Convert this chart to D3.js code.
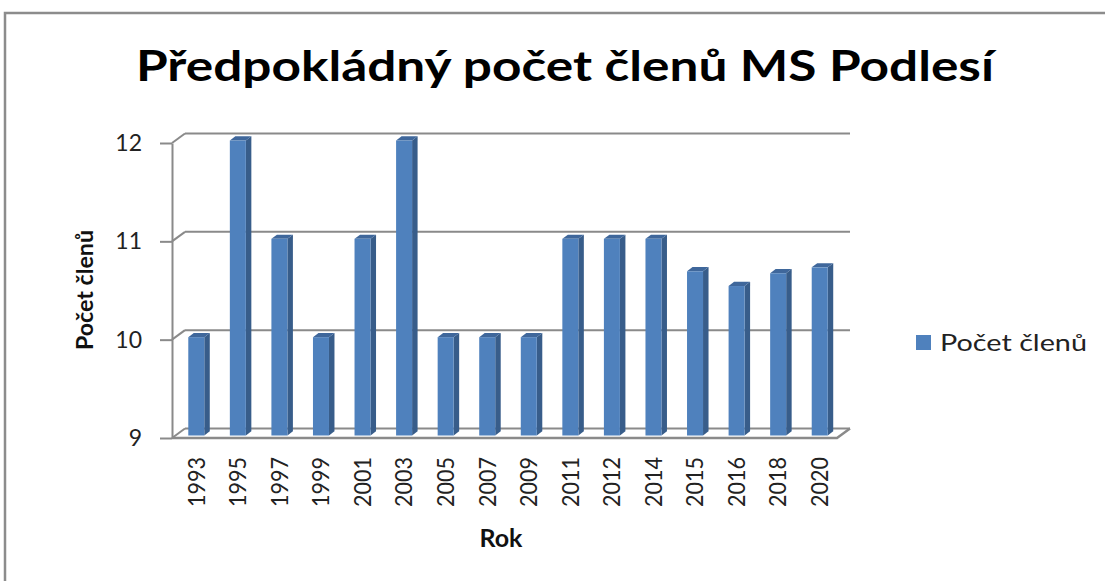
<!DOCTYPE html>
<html><head><meta charset="utf-8">
<script src="https://cdn.jsdelivr.net/npm/d3@7/dist/d3.min.js"></script>
<style>body{margin:0;background:#fff}svg{display:block}</style>
</head><body>
<svg id="c" width="1105" height="581"></svg>
<script>
const years = ["1993","1995","1997","1999","2001","2003","2005","2007","2009","2011","2012","2014","2015","2016","2018","2020"];
const members = [10,12,11,10,11,12,10,10,10,11,11,11,10.67,10.52,10.65,10.71];
const yTicks = [9,10,11,12];
const seriesName = "Počet členů";
const titleText = "Předpokládný počet členů MS Podlesí";
const xTitle = "Rok";
const yTitle = "Počet členů";

const svg = d3.select("#c");
const font = "Lato, 'Open Sans', sans-serif";
const grid = "#8a8a8a";

// chart border
svg.append("path").attr("d","M5,582 L5,13 L1106,13").attr("fill","none").attr("stroke","#8c8c8c").attr("stroke-width",2.5);

const x0 = 172, x1 = 837;
const x = d3.scaleBand().domain(years).range([x0, x1]).paddingInner(0.615).paddingOuter(0.3075);
const y = d3.scaleLinear().domain([9,12]).range([438,143]);
const wallDx = 13, wallDy = -9.5;   // back wall offset
const barDx = 3.5, barDy = -2.5;    // bar placement depth
const depX = 5.5, depY = -4.2;      // bar's own depth

// back wall gridlines
svg.append("g").selectAll("line").data(yTicks).join("line")
  .attr("x1", x0 + wallDx).attr("x2", x1 + wallDx)
  .attr("y1", d => y(d) + wallDy).attr("y2", d => y(d) + wallDy)
  .attr("stroke", grid).attr("stroke-width", 2);
// diagonals from axis ticks to wall
svg.append("g").selectAll("line").data(yTicks).join("line")
  .attr("x1", x0).attr("x2", x0 + wallDx)
  .attr("y1", d => y(d)).attr("y2", d => y(d) + wallDy)
  .attr("stroke", grid).attr("stroke-width", 2);
// floor front & right edge
svg.append("path")
  .attr("d", `M${x0},${y(9)} L${x1},${y(9)} L${x1+wallDx},${y(9)+wallDy}`)
  .attr("fill","none").attr("stroke", grid).attr("stroke-width", 2.5);

// bars
const bars = svg.append("g").selectAll("g").data(years).join("g");
const bw = x.bandwidth();
bars.append("path") // side
  .attr("d", (d,i) => {
    const L = x(d) + barDx + bw, T = y(members[i]) + barDy, B = y(9) + barDy;
    return `M${L},${T} L${L+depX},${T+depY} L${L+depX},${B+depY} L${L},${B} Z`;
  }).attr("fill", "#385d8a");
bars.append("path") // top
  .attr("d", (d,i) => {
    const L = x(d) + barDx, T = y(members[i]) + barDy;
    return `M${L},${T} L${L+depX},${T+depY} L${L+bw+depX},${T+depY} L${L+bw},${T} Z`;
  }).attr("fill", "#3f679b");
bars.append("rect") // front
  .attr("x", d => x(d) + barDx)
  .attr("y", (d,i) => y(members[i]) + barDy)
  .attr("width", bw)
  .attr("height", (d,i) => y(9) - y(members[i]))
  .attr("fill", "#4f81bd");

// y axis
const yAxis = svg.append("g").attr("transform", `translate(${x0},0)`)
  .call(d3.axisLeft(y).tickValues(yTicks).tickFormat(d3.format("d")).tickSizeInner(12).tickSizeOuter(0).tickPadding(18));
yAxis.select(".domain").attr("stroke", grid).attr("stroke-width", 2);
yAxis.selectAll(".tick line").attr("stroke", grid).attr("stroke-width", 2);
yAxis.selectAll(".tick text").attr("font-family", font).attr("font-size", 23).attr("fill", "#222");

// x axis labels
const xAxis = svg.append("g").attr("transform", `translate(${barDx},${y(9)})`)
  .call(d3.axisBottom(x).tickSize(0).tickPadding(0));
xAxis.select(".domain").remove();
xAxis.selectAll(".tick text")
  .attr("font-family", font).attr("font-size", 23).attr("fill", "#222")
  .attr("text-anchor", "end").attr("transform", "rotate(-90)")
  .attr("x", -19).attr("y", 0).attr("dy", "0.36em")
  .attr("textLength", 50).attr("lengthAdjust", "spacingAndGlyphs");

// titles
svg.append("text").attr("x", 565).attr("y", 81).attr("text-anchor", "middle")
  .attr("font-family", font).attr("font-weight", "bold").attr("font-size", 42)
  .attr("textLength", 858).attr("lengthAdjust", "spacingAndGlyphs")
  .attr("fill", "#000").text(titleText);
svg.append("text").attr("x", 501).attr("y", 547).attr("text-anchor", "middle")
  .attr("font-family", font).attr("font-weight", "bold").attr("font-size", 25)
  .attr("fill", "#111").text(xTitle);
svg.append("text").attr("transform", "translate(93,290) rotate(-90)").attr("text-anchor", "middle")
  .attr("font-family", font).attr("font-weight", "bold").attr("font-size", 23)
  .attr("textLength", 120).attr("lengthAdjust", "spacingAndGlyphs")
  .attr("fill", "#111").text(yTitle);

// legend
const lg = svg.append("g").attr("transform", "translate(916,335)");
lg.append("rect").attr("width", 15).attr("height", 15).attr("fill", "#4f81bd");
lg.append("text").attr("x", 24).attr("y", 16).attr("font-family", font).attr("font-size", 24)
  .attr("textLength", 147).attr("lengthAdjust", "spacingAndGlyphs")
  .attr("fill", "#222").text(seriesName);
</script>
</body></html>
